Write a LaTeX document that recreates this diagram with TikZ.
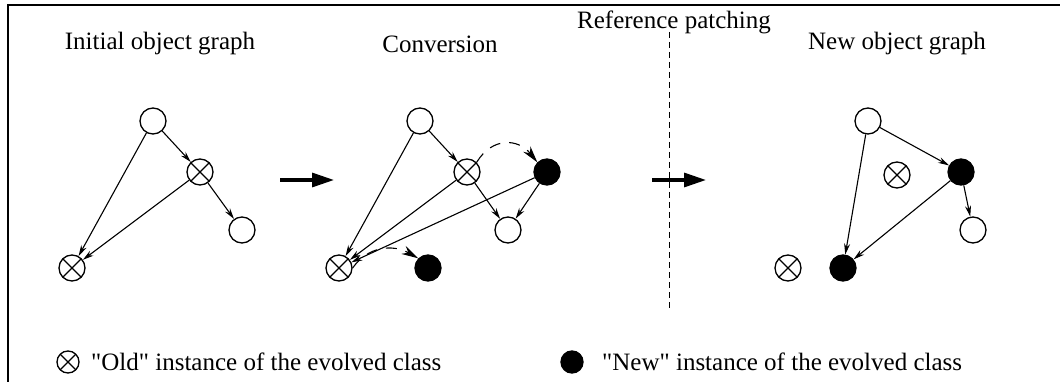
\documentclass[tikz,border=0pt]{standalone}
\usepackage{fontspec}
\setmainfont{Liberation Serif}[Ligatures=TeXOff]
\usetikzlibrary{arrows.meta}

\tikzset{
  obj/.style={circle, draw, line width=1.3pt, minimum size=26pt, inner sep=0pt, fill=white},
  oldobj/.style={obj, path picture={
      \draw[line width=1.3pt] (path picture bounding box.north west) -- (path picture bounding box.south east)
                              (path picture bounding box.north east) -- (path picture bounding box.south west);}},
  newobj/.style={obj, fill=black},
  key/.style={minimum size=22pt},
  ref/.style={line width=1.1pt, -{Stealth[length=11pt,width=6pt]}},
  migrate/.style={line width=1.1pt, dash pattern=on 11pt off 9pt, -{Stealth[length=17pt,width=9pt]}},
  stage/.style={line width=3.2pt, -{Triangle[length=22pt,width=14pt]}},
  title/.style={font=\fontsize{25}{30}\selectfont, inner sep=0pt},
  legend/.style={font=\fontsize{25}{30}\selectfont, inner sep=0pt, anchor=west},
}

\begin{document}
\begin{tikzpicture}[x=1pt,y=-1pt]
\useasboundingbox (0,0) rectangle (1060,382);

% frame
\draw[line width=1.5pt] (8,382) -- (8,5) -- (1060,5);

% titles
\node[title] (t1) at (160,44) {Initial object graph};
\node[title] (t2) at (440,44) {Conversion};
\node[title] (t3) at (674,22) {Reference patching};
\node[title] (t4) at (897,44) {New object graph};

% phase separator
\coordinate (sepTop) at (669,32);
\coordinate (sepBot) at (669,310);
\draw[line width=1pt, dash pattern=on 6pt off 4pt] (sepTop) -- (sepBot);

% initial object graph
\node[obj]    (a1) at (153,121) {};
\node[oldobj] (b1) at (200,172) {};
\node[obj]    (c1) at (242,230) {};
\node[oldobj] (d1) at (72,268) {};
\draw[ref] (a1) -- (b1);
\draw[ref] (b1) -- (c1);
\draw[ref] (a1) -- (d1);
\draw[ref] (b1) -- (d1);

% conversion
\node[obj]    (a2) at (420,121) {};
\node[oldobj] (b2) at (467,172) {};
\node[newobj] (e2) at (547,172) {};
\node[obj]    (c2) at (508,230) {};
\node[oldobj] (d2) at (339,268) {};
\node[newobj] (f2) at (428,268) {};
\draw[ref] (a2) -- (b2);
\draw[ref] (b2) -- (c2);
\draw[ref] (a2) -- (d2);
\draw[ref] (b2) -- (d2);
\draw[ref] (e2) -- (c2);
\draw[ref] (e2) -- (d2);
\draw[migrate] (b2.north east) .. controls (492,137) and (518,138) .. (e2.north west);
\draw[migrate] (d2.east) .. controls (368,246) and (393,244) .. (f2.north west);

% new object graph
\node[obj]    (a3) at (868,121) {};
\node[newobj] (e3) at (961,172) {};
\node[oldobj] (b3) at (897,175) {};
\node[obj]    (c3) at (973,230) {};
\node[newobj] (f3) at (843,268) {};
\node[oldobj] (d3) at (788,268) {};
\draw[ref] (a3) -- (e3);
\draw[ref] (e3) -- (c3);
\draw[ref] (a3) -- (f3);
\draw[ref] (e3) -- (f3);

% stage arrows
\coordinate (s1a) at (280,180);
\coordinate (s1b) at (334,180);
\coordinate (s2a) at (652,180);
\coordinate (s2b) at (706,180);
\draw[stage] (s1a) -- (s1b);
\draw[stage] (s2a) -- (s2b);

% legend
\node[oldobj,key] (lo) at (68,362) {};
\node[legend] (lot) at (91,362) {"Old" instance of the evolved class};
\node[newobj,key] (ln) at (572,362) {};
\node[legend] (lnt) at (602,362) {"New" instance of the evolved class};
\end{tikzpicture}
\end{document}
